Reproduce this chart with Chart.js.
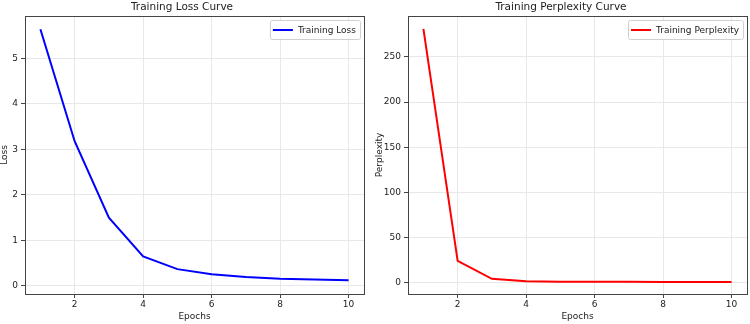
<!DOCTYPE html>
<html>
<head>
<meta charset="utf-8">
<script src="https://cdn.jsdelivr.net/npm/chart.js@4"></script>
<style>
  body { margin: 0; background: #fff; }
  .box { position: absolute; top: 0; width: 375px; height: 324px; }
</style>
</head>
<body>
<div class="box" style="left:0"><canvas id="lossChart"></canvas></div>
<div class="box" style="left:375px"><canvas id="pplChart"></canvas></div>
<script>
// data
const epochs = [1, 2, 3, 4, 5, 6, 7, 8, 9, 10];
const lossValues = [5.64, 3.18, 1.5, 0.65, 0.37, 0.26, 0.2, 0.16, 0.14, 0.125];
const perplexityValues = [281, 24.5, 4.6, 1.9, 1.45, 1.3, 1.22, 1.17, 1.15, 1.13];
const epochTicks = [2, 4, 6, 8, 10];
const lossTicks = [0, 1, 2, 3, 4, 5];
const perplexityTicks = [0, 50, 100, 150, 200, 250];

const FONT = "'DejaVu Sans', sans-serif";
const TEXT = "#222";

// frame around the plot + matplotlib style legend in the upper right
const framePlugin = {
  id: "frame",
  afterDraw(chart) {
    const { ctx, chartArea: a } = chart;
    ctx.save();
    ctx.strokeStyle = "#444";
    ctx.lineWidth = 1;
    ctx.strokeRect(Math.round(a.left) + 0.5, Math.round(a.top) + 0.5,
      Math.round(a.right - a.left), Math.round(a.bottom - a.top));

    const ds = chart.data.datasets[0];
    ctx.font = "9px " + FONT;
    const tw = ctx.measureText(ds.label).width;
    const w = 3 + 20 + 5 + tw + 4;
    const h = 19;
    const x = a.right - 4 - w;
    const y = a.top + 4;
    ctx.fillStyle = "rgba(255,255,255,0.85)";
    ctx.strokeStyle = "#d0d0d0";
    ctx.beginPath();
    ctx.roundRect(x + 0.5, y + 0.5, w, h, 2);
    ctx.fill();
    ctx.stroke();
    ctx.strokeStyle = ds.borderColor;
    ctx.lineWidth = 2;
    ctx.beginPath();
    ctx.moveTo(x + 3, y + h / 2 + 0.5);
    ctx.lineTo(x + 23, y + h / 2 + 0.5);
    ctx.stroke();
    ctx.fillStyle = TEXT;
    ctx.textBaseline = "middle";
    ctx.fillText(ds.label, x + 28, y + h / 2 + 1);
    ctx.restore();
  },
};

function makeChart(id, opts) {
  const ctx = document.getElementById(id).getContext("2d");
  return new Chart(ctx, {
    type: "line",
    data: {
      datasets: [
        {
          label: opts.label,
          data: epochs.map((e, i) => ({ x: e, y: opts.values[i] })),
          borderColor: opts.color,
          borderWidth: 2,
          pointRadius: 0,
          tension: 0,
        },
      ],
    },
    options: {
      responsive: true,
      maintainAspectRatio: false,
      animation: false,
      layout: { padding: { right: opts.padRight, left: 0, top: 0, bottom: 0 } },
      plugins: {
        legend: { display: false },
        tooltip: { enabled: false },
        title: {
          display: true,
          text: opts.title,
          color: TEXT,
          font: { family: FONT, size: 10.5, weight: "normal" },
          padding: { top: 1, bottom: 2.4 },
        },
      },
      scales: {
        x: {
          type: "linear",
          min: 0.55,
          max: 10.45,
          afterBuildTicks: (scale) => {
            scale.ticks = epochTicks.map((v) => ({ value: v }));
          },
          afterFit: (scale) => {
            scale.height = 30;
          },
          grid: { color: "#e8e8e8", tickColor: "#444", tickLength: 4 },
          border: { color: "#444" },
          ticks: {
            color: TEXT,
            padding: 1,
            maxRotation: 0,
            font: { family: FONT, size: 9 },
          },
          title: {
            display: true,
            text: "Epochs",
            color: TEXT,
            font: { family: FONT, size: 9, lineHeight: 1.2 },
            padding: { top: 0, bottom: 1.5 },
          },
        },
        y: {
          min: opts.yMin,
          max: opts.yMax,
          afterBuildTicks: (scale) => {
            scale.ticks = opts.ticks.map((v) => ({ value: v }));
          },
          afterFit: (scale) => {
            scale.width = opts.axisWidth;
          },
          grid: { color: "#e8e8e8", tickColor: "#444", tickLength: 4 },
          border: { color: "#444" },
          ticks: {
            color: TEXT,
            padding: 3,
            font: { family: FONT, size: 9 },
          },
          title: {
            display: true,
            text: opts.yTitle,
            color: TEXT,
            font: { family: FONT, size: 9, lineHeight: 1 },
            padding: { top: opts.yTitlePad, bottom: 0 },
          },
        },
      },
    },
    plugins: [framePlugin],
  });
}

makeChart("lossChart", {
  label: "Training Loss",
  title: "Training Loss Curve",
  yTitle: "Loss",
  values: lossValues,
  ticks: lossTicks,
  color: "#0000ff",
  yMin: -0.176,
  yMax: 5.93,
  axisWidth: 25,
  yTitlePad: 0.5,
  padRight: 11,
});

makeChart("pplChart", {
  label: "Training Perplexity",
  title: "Training Perplexity Curve",
  yTitle: "Perplexity",
  values: perplexityValues,
  ticks: perplexityTicks,
  color: "#ff0000",
  yMin: -12.2,
  yMax: 295.2,
  axisWidth: 33,
  yTitlePad: 0,
  padRight: 3,
});
</script>
</body>
</html>
